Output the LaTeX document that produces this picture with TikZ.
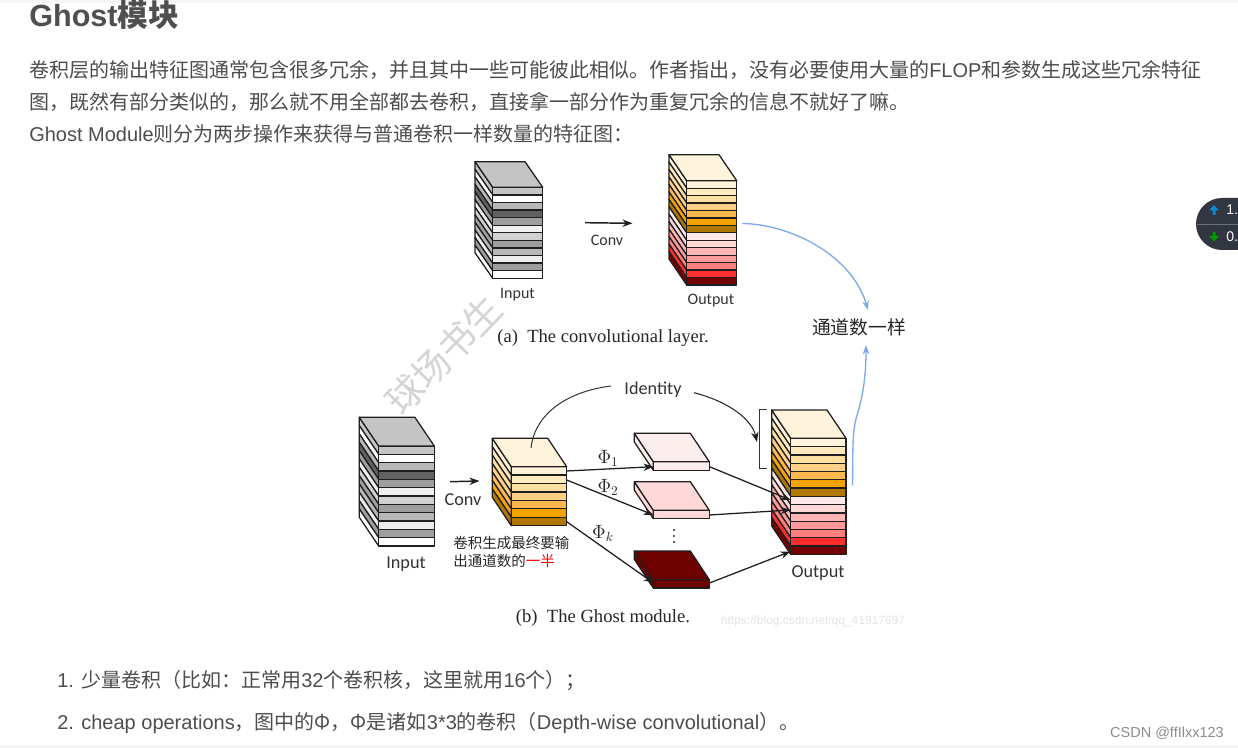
\documentclass[tikz,border=0pt]{standalone}
\usepackage{fontspec}
\usetikzlibrary{arrows.meta}
\setmainfont{Noto Sans CJK SC}
\newfontfamily\serifx{Liberation Serif}
\newfontfamily\labelx{Carlito}
\newfontfamily\lat{Liberation Sans}
\newcommand{\pxfont}[1]{\edef\tmpfs{\the\dimexpr #1pt*3/4\relax}\fontsize{\tmpfs}{\tmpfs}\selectfont}
\definecolor{txt}{HTML}{4D4D4D}
\definecolor{hd}{HTML}{4F4F4F}
\definecolor{oa1}{HTML}{FFF3DC}\definecolor{oa2}{HTML}{FFE9BE}\definecolor{oa3}{HTML}{FFDFA0}
\definecolor{oa4}{HTML}{FFCF85}\definecolor{oa5}{HTML}{FFB84D}\definecolor{oa6}{HTML}{F5A300}\definecolor{oa7}{HTML}{B07800}
\definecolor{ra1}{HTML}{FDE9E9}\definecolor{ra2}{HTML}{FFD7D7}\definecolor{ra3}{HTML}{FFB5B5}
\definecolor{ra4}{HTML}{FF9A9A}\definecolor{ra5}{HTML}{FF7F7F}\definecolor{ra6}{HTML}{FF2E2E}\definecolor{ra7}{HTML}{750000}
\definecolor{pa1}{HTML}{FDEEEE}\definecolor{pa2}{HTML}{FFD9D9}\definecolor{pa3}{HTML}{6E0000}
\definecolor{bluel}{HTML}{7DAAEB}
\definecolor{widget}{HTML}{323640}
% \slab{name}{xbackleft}{ybacktop}{xfrontleft}{xfrontright}{yfronttop}{ybottom}{colours}
\newcommand{\slab}[8]{%
  \def\xb{#2}\def\yb{#3}\def\xl{#4}\def\xr{#5}\def\yt{#6}\def\yz{#7}%
  \pgfmathsetmacro\dxx{\xl-\xb}\pgfmathsetmacro\dyy{\yt-\yb}%
  \pgfmathsetmacro\wid{\xr-\xl}%
  \def\cols{#8}%
  \foreach \cc [count=\n] in \cols {\global\let\nslices\n}%
  \pgfmathsetmacro\hh{(\yz-\yt)/\nslices}%
  \foreach \cc [count=\n] in \cols {%
    \pgfmathsetmacro\ya{\yt+(\n-1)*\hh}\pgfmathsetmacro\yc{\ya+\hh}%
    \draw[blk,fill=\cc] (\xl,\ya) -- (\xl,\yc) -- (\xl-\dxx,\yc-\dyy) -- (\xl-\dxx,\ya-\dyy) -- cycle;
    \draw[blk,fill=\cc] (\xl,\ya) rectangle (\xr,\yc);
  }%
  \foreach \cc [count=\n] in \cols {\ifnum\n=1 \draw[blk,fill=\cc] (\xb,\yb) -- (\xb+\wid,\yb) -- (\xr,\yt) -- (\xl,\yt) -- cycle;\fi}%
  \coordinate (#1-w) at (\xl,{(\yt+\yz)/2});
  \coordinate (#1-e) at (\xr,{(\yt+\yz)/2});
}
\tikzset{
  blk/.style={draw=black!88,line width=0.95pt,line join=round},
  conn/.style={draw=black!88,line width=0.95pt,-{Stealth[length=7.5pt,width=5.5pt]}},
  plainline/.style={draw=black!80,line width=0.75pt},
  bluec/.style={draw=bluel,line width=1pt},
  bodytext/.style={anchor=west,inner sep=0pt,text=txt,font=\pxfont{20}},
  lab/.style={inner sep=0pt,text=black!80,font=\labelx\pxfont{16}},
  labb/.style={inner sep=0pt,text=black!80,font=\labelx\pxfont{18.2}},
  captext/.style={inner sep=0pt,text=black!85,font=\serifx\pxfont{18.6}},
  phitext/.style={inner sep=0pt,text=black!85,font=\pxfont{19}},
}
\begin{document}
\begin{tikzpicture}[x=0.75pt,y=-0.75pt]
\useasboundingbox (0,0) rectangle (1238,748);
\fill[white] (0,0) rectangle (1238,748);
\fill[black!4] (0,0) rectangle (1238,3);
\fill[black!4] (0,745) rectangle (1238,748);

% page text
\node[bodytext,anchor=west,text=hd,font=\pxfont{30.6}\bfseries] (title) at (29,15) {\lat Ghost\normalfont\bfseries 模块};
\node[bodytext] (l1) at (29,70) {卷积层的输出特征图通常包含很多冗余，并且其中一些可能彼此相似。作者指出，没有必要使用大量的{\lat FLOP}和参数生成这些冗余特征};
\node[bodytext] (l2) at (29,102) {图，既然有部分类似的，那么就不用全部都去卷积，直接拿一部分作为重复冗余的信息不就好了嘛。};
\node[bodytext] (l3) at (29,134) {{\lat Ghost Module}则分为两步操作来获得与普通卷积一样数量的特征图：};
\node[bodytext] (l4) at (57,681) {{\lat 1. }少量卷积（比如：正常用{\lat 32}个卷积核，这里就用{\lat 16}个）；};
\node[bodytext] (l5) at (57,723) {{\lat 2. cheap operations}，图中的Φ，Φ是诸如{\lat 3*3}的卷积（{\lat Depth-wise convolutional}）。};

% watermark
\node[rotate=46,text=black!17,font=\pxfont{37}] (wm) at (444,355) {球场书生};

% (a)
\slab{ia}{475}{161.7}{492.7}{542.7}{187.3}{278.3}{{black!23},white,{black!28},{black!62},{black!38},{black!6},{black!18},{black!38},{black!28},{black!7},{black!38},white}
\slab{oa}{669}{154.7}{686.7}{736.7}{180.7}{285}{oa1,oa2,oa3,oa4,oa5,oa6,oa7,ra1,ra2,ra3,ra4,ra5,ra6,ra7}
\coordinate (ca0) at (585,222.7); \coordinate (ca1) at (632.5,223.3);
\draw[conn,line width=1.1pt] (ca0) -- (ca1);
\node[lab] (tconv) at (607,240) {Conv};
\node[lab] (tinput) at (517.5,295) {Input};
\node[lab] (toutput) at (711,301) {Output};
\node[captext] (capa) at (603,338) {(a)\ \ The convolutional layer.};
\node[inner sep=0pt,text=black!85,font=\pxfont{18.8}] (tong) at (859,327) {通道数一样};

% (b)
\slab{ib}{359.3}{417.3}{378.7}{434.3}{446}{546}{{black!23},white,{black!28},{black!62},{black!38},{black!6},{black!18},{black!38},{black!28},{black!7},{black!38},white}
\slab{cb}{492.3}{438.3}{511.3}{566.7}{466.7}{525.7}{oa1,oa2,oa3,oa4,oa5,oa6,oa7}
\slab{ob}{771.7}{410}{790.7}{846}{438.3}{554.3}{oa1,oa2,oa3,oa4,oa5,oa6,oa7,ra1,ra2,ra3,ra4,ra5,ra6,ra7}
\slab{p1}{634.3}{433.3}{653.3}{709.3}{461.7}{470.3}{pa1}
\slab{p2}{634.3}{481.7}{653.3}{709.3}{510.3}{518.7}{pa2}
\slab{pk}{634.3}{551}{653.3}{709.3}{579.7}{588}{pa3}

\coordinate (cb0) at (450,481.7); \coordinate (cb1) at (479.5,481);
\draw[conn,line width=1.1pt] (cb0) -- (cb1);
\coordinate (e1) at (566.7,471); \coordinate (e2) at (566.7,480); \coordinate (e3) at (566.7,521.7);
\coordinate (t1) at (653.5,466.7); \coordinate (t2) at (653.5,515); \coordinate (t3) at (653.5,583);
\draw[conn] (e1) -- (t1);
\draw[conn] (e2) -- (t2);
\draw[conn] (e3) -- (t3);
\coordinate (s1) at (709.5,466.7); \coordinate (s2) at (709.5,515); \coordinate (s3) at (709.5,583);
\coordinate (o1) at (790.5,500); \coordinate (o2) at (790.5,510); \coordinate (o3) at (790.5,551.5);
\draw[conn] (s1) -- (o1);
\draw[conn] (s2) -- (o2);
\draw[conn] (s3) -- (o3);

% identity
\node[labb] (tid) at (653,389.5) {Identity};
\coordinate (ida) at (531,448);
\coordinate (idb) at (611,386);
\draw[plainline] (ida) .. controls (535,412) and (570,391) .. (idb);
\coordinate (idc) at (694,392.7);
\coordinate (idd) at (757,442);
\draw[conn,line width=0.75pt] (idc) .. controls (730,402) and (752,420) .. (idd);
\coordinate (ba) at (766.7,409.3); \coordinate (bb) at (759,409.3);
\coordinate (bc) at (759,468.7); \coordinate (bd) at (766.7,468.7);
\draw[plainline] (ba) -- (bb) -- (bc) -- (bd);

% blue curves
\coordinate (b1) at (742,223.5); \coordinate (b2) at (868,310);
\draw[bluec,-{Stealth[length=7pt,width=5pt]}] (b1) .. controls (790,224) and (852,255) .. (b2);
\coordinate (b3) at (852.5,485); \coordinate (bm) at (858,412); \coordinate (b4) at (866,345);
\draw[bluec,-{Stealth[length=7pt,width=5pt]}] (b3) .. controls (853,445) and (852,430) .. (bm) .. controls (863,395) and (866,375) .. (b4);

% labels b
\node[labb] (tconvb) at (463,499.5) {Conv};
\node[labb] (tinb) at (406,564.5) {Input};
\node[labb] (toutb) at (818,573.5) {Output};
\node[inner sep=0pt,text=black!85,font=\pxfont{14.5},anchor=west] (cn1) at (453,543) {卷积生成最终要输};
\node[inner sep=0pt,text=black!85,font=\pxfont{14.5},anchor=west] (cn2) at (453,561) {出通道数的\textcolor{red}{一半}};
\node[phitext] (ph1) at (608,458) {$\Phi_1$};
\node[phitext] (ph2) at (608,487) {$\Phi_2$};
\node[phitext] (phk) at (603,533) {$\Phi_k$};
\foreach \yy in {530,536,542} \fill[black!85] (674,\yy) circle (1.2);
\node[captext] (capb) at (603,618) {(b)\ \ The Ghost module.};
\node[inner sep=0pt,text=black!10,font=\lat\pxfont{12}] (wm2) at (813,621) {https://blog.csdn.net/qq\_41917697};

% side widget
\fill[widget] (1238,198) -- (1222,198) arc[start angle=270,end angle=90,radius=26] -- (1238,250) -- cycle;
\draw[white!30!widget,line width=0.4pt] (1197,224) -- (1238,224);
\node[inner sep=0pt,text=white,font=\lat\pxfont{14},anchor=west] (w1) at (1226,210) {1.};
\node[inner sep=0pt,text=white,font=\lat\pxfont{14},anchor=west] (w2) at (1226,237) {0.};
\fill[cyan!70!blue] (1214,205) -- (1209,210.5) -- (1212.5,210.5) -- (1212.5,215) -- (1215.5,215) -- (1215.5,210.5) -- (1219,210.5) -- cycle;
\fill[green!60!black] (1214,241.5) -- (1209,236) -- (1212.5,236) -- (1212.5,232) -- (1215.5,232) -- (1215.5,236) -- (1219,236) -- cycle;

% footer mark
\node[inner sep=0pt,text=black!45,font=\lat\pxfont{14.5},anchor=east] (csdn) at (1224,733) {CSDN @ffIlxx123};
\end{tikzpicture}
\end{document}
